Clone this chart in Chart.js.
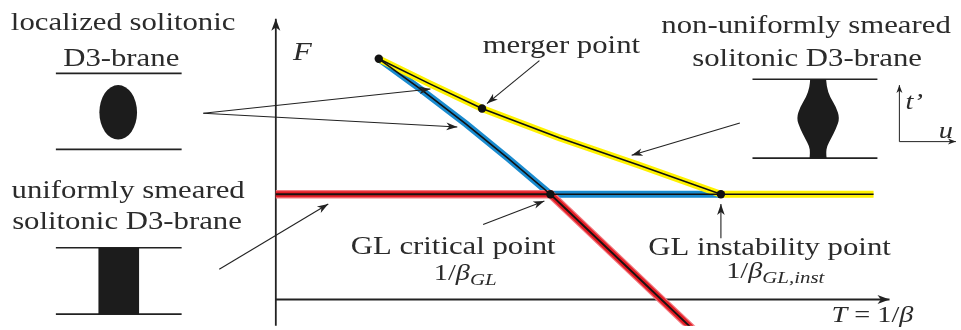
<!DOCTYPE html>
<html>
<head>
<meta charset="utf-8">
<script src="https://cdn.jsdelivr.net/npm/chart.js@4.4.1/dist/chart.umd.min.js"></script>
<style>
  html, body { margin: 0; padding: 0; background: #fff; }
</style>
</head>
<body>
<canvas id="grafico_fases" width="961" height="330"></canvas>
<script>
// x = T = 1/beta, y = F (free energy), arbitrary units: critical point at (1, 1)

// uniformly smeared branch (red)
var redT = [0, 1, 1.404, 1.56];
var redF = [1, 1, 0, -0.386];
// localized branch (blue)
var blueT = [0.375, 0.531, 0.693, 0.845, 1, 1.621];
var blueF = [2.287, 1.991, 1.667, 1.343, 1, 1];
// non-uniformly smeared branch (yellow)
var yellowT = [0.375, 0.563, 0.751, 1.032, 1.321, 1.621, 2.177];
var yellowF = [2.287, 2.046, 1.815, 1.537, 1.278, 1, 1];
// special points: start, merger, GL critical, GL instability
var dotT = [0.375, 0.751, 1, 1.621];
var dotF = [2.287, 1.815, 1, 1];

// pointer arrows (from -> to)
var arrowT0 = [-0.264, -0.264, 0.960, 1.690, -0.206, 0.755, 1.621];
var arrowF0 = [1.769, 1.769, 2.269, 1.676, 0.287, 0.713, 0.583];
var arrowT1 = [0.563, 0.661, 0.769, 1.296, 0.191, 0.978, 1.621];
var arrowF1 = [2.000, 1.639, 1.861, 1.370, 0.907, 0.935, 0.907];

// brane sketches
var slabT0 = [-0.801, -0.801, -0.801, -0.801, 1.736, 1.736];
var slabT1 = [-0.343, -0.343, -0.343, -0.343, 2.191, 2.191];
var slabF = [2.148, 1.426, 0.491, -0.139, 2.093, 1.343];
var blobT = -0.574, blobF = 1.778, blobRT = 0.0686, blobRF = 0.259;
var barT = [-0.646, -0.498], barF = [0.491, -0.139];
var vaseT = 1.975;
var vaseF = [2.093, 2.019, 1.926, 1.833, 1.722, 1.620, 1.528, 1.454, 1.398, 1.343];
var vaseHalf = [0.029, 0.031, 0.043, 0.065, 0.079, 0.065, 0.047, 0.032, 0.029, 0.031];

var SX = 1.23;
var FAM = '"Liberation Serif", "DejaVu Serif", serif';
var RM = '25px ' + FAM;
var IT = 'italic 25px ' + FAM;
var MRM = '23px ' + FAM;
var MIT = 'italic 23px ' + FAM;
var SUB = 'italic 17px ' + FAM;

var labels = [
  { T: -0.556, F: 2.556, parts: [['localized solitonic', RM]] },
  { T: -0.563, F: 2.222, parts: [['D3-brane', RM]] },
  { T: -0.538, F: 0.963, parts: [['uniformly smeared', RM]] },
  { T: -0.542, F: 0.667, parts: [['solitonic D3-brane', RM]] },
  { T: 1.040, F: 2.343, parts: [['merger point', RM]] },
  { T: 1.931, F: 2.528, parts: [['non-uniformly smeared', RM]] },
  { T: 1.935, F: 2.222, parts: [['solitonic D3-brane', RM]] },
  { T: 0.646, F: 0.435, parts: [['GL critical point', RM]] },
  { T: 0.690, F: 0.185, parts: [['1/', MRM], ['β', MIT], ['GL', SUB, 5]] },
  { T: 1.798, F: 0.426, parts: [['GL instability point', RM]] },
  { T: 1.819, F: 0.204, parts: [['1/', MRM], ['β', MIT], ['GL,inst', SUB, 5]] },
  { T: 2.173, F: -0.213, parts: [['T', MIT], [' = 1/', MRM], ['β', MIT]] },
  { T: 0.097, F: 2.278, parts: [['F', IT]] },
  { T: 2.325, F: 1.806, parts: [['t’', MIT]] },
  { T: 2.440, F: 1.537, parts: [['u', MIT]] }
];

function pts(ts, fs) {
  return ts.map(function (t, i) { return { x: t, y: fs[i] }; });
}

var datasets = [];
datasets.push({ data: pts(dotT, dotF), showLine: false, pointRadius: 4.2, pointBackgroundColor: '#111', pointBorderWidth: 0, order: 0 });
datasets.push({ data: pts(blueT, blueF), borderColor: '#111', borderWidth: 1.6, order: 1 });
datasets.push({ data: pts(yellowT, yellowF), borderColor: '#111', borderWidth: 1.6, order: 1 });
datasets.push({ data: pts(redT, redF), borderColor: '#1a1111', borderWidth: 1.8, order: 1 });
datasets.push({ data: pts(redT, redF), borderColor: '#e31e26', borderWidth: 6, order: 2 });
datasets.push({ data: pts(redT, redF), borderColor: '#f27a80', borderWidth: 8.5, order: 2.5 });
datasets.push({ data: pts(yellowT, yellowF), borderColor: '#fff200', borderWidth: 7, order: 3 });
datasets.push({ data: pts(blueT, blueF), borderColor: '#1a8bcf', borderWidth: 7, order: 4 });
// coordinate axes
datasets.push({ data: pts([0, 0], [-0.4, 2.667]), borderColor: '#222', borderWidth: 1.8, head: [12, 4.5], order: 5 });
datasets.push({ data: pts([0, 2.235], [0, 0]), borderColor: '#222', borderWidth: 1.8, head: [12, 4.5], order: 5 });
datasets.push({ data: pts([2.271, 2.271], [1.5, 2.037]), borderColor: '#222', borderWidth: 1, head: [8, 3], order: 5 });
datasets.push({ data: pts([2.271, 2.477], [1.5, 1.5]), borderColor: '#222', borderWidth: 1, head: [8, 3], order: 5 });
for (var i = 0; i < arrowT0.length; i++) {
  datasets.push({ data: pts([arrowT0[i], arrowT1[i]], [arrowF0[i], arrowF1[i]]), borderColor: '#222', borderWidth: 1.1, head: [11, 3.8], order: 0.5 });
}

function drawRich(ctx, parts, cx, cy) {
  var widths = [], total = 0;
  parts.forEach(function (p) {
    ctx.font = p[1];
    var w = ctx.measureText(p[0]).width * SX;
    widths.push(w);
    total += w;
  });
  var x = cx - total / 2;
  ctx.textAlign = 'left';
  ctx.textBaseline = 'alphabetic';
  parts.forEach(function (p, k) {
    ctx.save();
    ctx.font = p[1];
    ctx.translate(x, cy + (p[2] || 0));
    ctx.scale(SX, 1);
    ctx.fillText(p[0], 0, 0);
    ctx.restore();
    x += widths[k];
  });
}

// smooth outline through a list of pixel points
function smoothPath(ctx, p) {
  ctx.lineTo(p[0][0], p[0][1]);
  for (var k = 1; k < p.length - 1; k++) {
    var mx = (p[k][0] + p[k + 1][0]) / 2, my = (p[k][1] + p[k + 1][1]) / 2;
    ctx.quadraticCurveTo(p[k][0], p[k][1], mx, my);
  }
  ctx.lineTo(p[p.length - 1][0], p[p.length - 1][1]);
}

var diagram = {
  id: 'diagram',
  beforeDatasetsDraw: function (chart) {
    var ctx = chart.ctx, xs = chart.scales.x, ys = chart.scales.y;
    ctx.save();
    ctx.strokeStyle = '#222';
    ctx.fillStyle = '#1c1c1c';
    ctx.lineWidth = 1.6;
    for (var i = 0; i < slabF.length; i++) {
      ctx.beginPath();
      ctx.moveTo(xs.getPixelForValue(slabT0[i]), ys.getPixelForValue(slabF[i]));
      ctx.lineTo(xs.getPixelForValue(slabT1[i]), ys.getPixelForValue(slabF[i]));
      ctx.stroke();
    }
    // localized blob
    var cx = xs.getPixelForValue(blobT), cy = ys.getPixelForValue(blobF);
    ctx.beginPath();
    ctx.ellipse(cx, cy, xs.getPixelForValue(blobT + blobRT) - cx, cy - ys.getPixelForValue(blobF + blobRF), 0, 0, Math.PI * 2);
    ctx.fill();
    // uniform bar
    var x0 = xs.getPixelForValue(barT[0]), x1 = xs.getPixelForValue(barT[1]);
    var y0 = ys.getPixelForValue(barF[0]), y1 = ys.getPixelForValue(barF[1]);
    ctx.fillRect(x0, y0, x1 - x0, y1 - y0);
    // non-uniform vase
    var right = vaseF.map(function (f, k) { return [xs.getPixelForValue(vaseT + vaseHalf[k]), ys.getPixelForValue(f)]; });
    var left = vaseF.map(function (f, k) { return [xs.getPixelForValue(vaseT - vaseHalf[k]), ys.getPixelForValue(f)]; }).reverse();
    ctx.beginPath();
    ctx.moveTo(right[0][0], right[0][1]);
    smoothPath(ctx, right);
    smoothPath(ctx, left);
    ctx.closePath();
    ctx.fill();
    ctx.restore();
  },
  afterDatasetsDraw: function (chart) {
    var ctx = chart.ctx, xs = chart.scales.x, ys = chart.scales.y;
    ctx.save();
    chart.data.datasets.forEach(function (ds, i) {
      if (!ds.head) return;
      var el = chart.getDatasetMeta(i).data;
      var a = el[el.length - 2], b = el[el.length - 1];
      var ang = Math.atan2(b.y - a.y, b.x - a.x);
      var L = ds.head[0], W = ds.head[1];
      ctx.save();
      ctx.translate(b.x, b.y);
      ctx.rotate(ang);
      ctx.fillStyle = '#222';
      ctx.beginPath();
      ctx.moveTo(0, 0);
      ctx.lineTo(-L, -W);
      ctx.lineTo(-L * 0.72, 0);
      ctx.lineTo(-L, W);
      ctx.closePath();
      ctx.fill();
      ctx.restore();
    });
    ctx.fillStyle = '#2b2b2b';
    labels.forEach(function (l) {
      drawRich(ctx, l.parts, xs.getPixelForValue(l.T), ys.getPixelForValue(l.F));
    });
    ctx.restore();
  }
};

var ctx = document.getElementById('grafico_fases').getContext('2d');
var chart = new Chart(ctx, {
  type: 'line',
  data: { datasets: datasets },
  options: {
    responsive: false,
    animation: false,
    devicePixelRatio: 1,
    layout: { padding: 0 },
    elements: { point: { radius: 0, hoverRadius: 0 }, line: { tension: 0, fill: false } },
    plugins: { legend: { display: false }, tooltip: { enabled: false } },
    scales: {
      x: { type: 'linear', display: false, min: -0.9892, max: 2.4801 },
      y: { type: 'linear', display: false, min: -0.25, max: 2.8056 }
    }
  },
  plugins: [diagram]
});
if (document.fonts && document.fonts.ready) {
  document.fonts.ready.then(function () { chart.draw(); });
}
</script>
</body>
</html>
